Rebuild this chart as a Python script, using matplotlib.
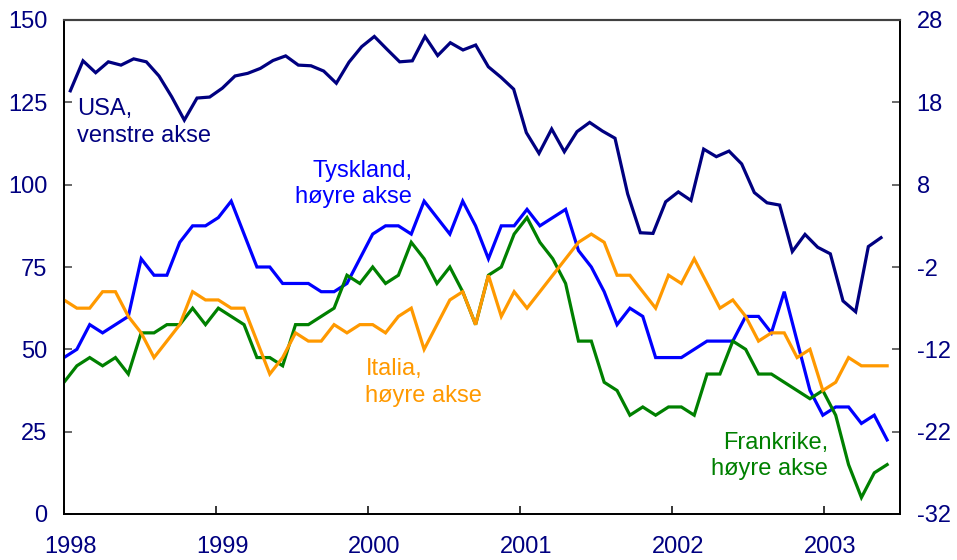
import numpy as np
import matplotlib
matplotlib.use("Agg")
import matplotlib.pyplot as plt

plt.rcParams['font.family'] = ['Liberation Sans', 'DejaVu Sans']

# ---- data -------------------------------------------------------------
years = ['1998', '1999', '2000', '2001', '2002', '2003']
n_categories = 66  # monthly categories Jan 1998 - Jun 2003

# USA consumer confidence, left axis (Jan 1998 - May 2003)
usa = [128.5, 137.6, 134.0, 137.3, 136.3, 138.2, 137.3, 133.0, 126.7, 119.6,
       126.3, 126.6, 129.3, 133.0, 133.8, 135.3, 137.7, 139.1, 136.3, 136.1,
       134.5, 130.8, 137.2, 141.9, 145.0, 141.1, 137.3, 137.6, 145.0, 139.2,
       143.1, 140.9, 142.4, 135.8, 132.6, 129.0, 115.8, 109.5, 116.9, 110.0,
       116.1, 118.9, 116.3, 114.1, 97.2, 85.4, 85.2, 94.8, 97.8, 95.2,
       110.8, 108.5, 110.2, 106.3, 97.6, 94.5, 93.8, 79.7, 84.9, 81.0,
       79.0, 64.7, 61.4, 81.2, 83.9]

# Right axis series (Jan 1998 - May 2003)
tyskland = [-13, -12, -9, -10, -9, -8, -1, -3, -3, 1,
            3, 3, 4, 6, 2, -2, -2, -4, -4, -4,
            -5, -5, -4, -1, 2, 3, 3, 2, 6, 4,
            2, 6, 3, -1, 3, 3, 5, 3, 4, 5,
            0, -2, -5, -9, -7, -8, -13, -13, -13, -12,
            -11, -11, -11, -8, -8, -10, -5, -11, -17, -20,
            -19, -19, -21, -20, -23]

italia = [-6, -7, -7, -5, -5, -8, -10, -13, -11, -9,
          -5, -6, -6, -7, -7, -11, -15, -13, -10, -11,
          -11, -9, -10, -9, -9, -10, -8, -7, -12, -9,
          -6, -5, -9, -3, -8, -5, -7, -5, -3, -1,
          1, 2, 1, -3, -3, -5, -7, -3, -4, -1,
          -4, -7, -6, -8, -11, -10, -10, -13, -12, -17,
          -16, -13, -14, -14, -14]

frankrike = [-16, -14, -13, -14, -13, -15, -10, -10, -9, -9,
             -7, -9, -7, -8, -9, -13, -13, -14, -9, -9,
             -8, -7, -3, -4, -2, -4, -3, 1, -1, -4,
             -2, -5, -9, -3, -2, 2, 4, 1, -1, -4,
             -11, -11, -16, -17, -20, -19, -20, -19, -19, -20,
             -15, -15, -11, -12, -15, -15, -16, -17, -18, -17,
             -20, -26, -30, -27, -26]

left_ticks = [0, 25, 50, 75, 100, 125, 150]
right_ticks = [-32, -22, -12, -2, 8, 18, 28]

# ---- styling ------------------------------------------------------------
NAVY = '#000080'
BLUE = '#0000ff'
ORANGE = '#ff9900'
GREEN = '#008000'
FS = 17

fig = plt.figure(figsize=(9.57, 5.6), dpi=100)
ax = fig.add_axes([64 / 957, 1 - 514 / 560, 836 / 957, 494 / 560])
ax2 = ax.twinx()

# primary series plotted at category centres, secondary on tick marks
x_usa = np.arange(len(usa)) + 0.5
x_eu = np.arange(len(tyskland)) * n_categories / (n_categories - 1)

ax.plot(x_usa, usa, color=NAVY, lw=2.3, solid_joinstyle='miter')
ax2.plot(x_eu, tyskland, color=BLUE, lw=2.3, solid_joinstyle='miter')
ax2.plot(x_eu, frankrike, color=GREEN, lw=2.3, solid_joinstyle='miter')
ax2.plot(x_eu, italia, color=ORANGE, lw=2.3, solid_joinstyle='miter')

ax.set_xlim(0, n_categories)
ax.set_ylim(0, 150)
ax2.set_ylim(-32, 28)

ax.set_yticks(left_ticks)
ax.set_yticklabels([str(t) for t in left_ticks])
ax2.set_yticks(right_ticks)
ax2.set_yticklabels([str(t) for t in right_ticks])

year_pos = np.arange(len(years)) * 12
ax.set_xticks(year_pos)
ax.set_xticklabels([''] * len(years))
ax.set_xticks(year_pos + 0.5, minor=True)
ax.set_xticklabels(years, minor=True)

ax.tick_params(axis='x', which='major', direction='in', length=6, width=1.1,
               color='black')
ax.tick_params(axis='x', which='minor', length=0, pad=16, labelsize=FS,
               labelcolor=NAVY)
ax.tick_params(axis='y', direction='in', length=6, width=1.1, pad=12,
               labelsize=FS, labelcolor=NAVY, color='#404040')
ax2.tick_params(axis='y', direction='in', length=6, width=1.1, pad=12,
                labelsize=FS, labelcolor=NAVY, color='#404040')

for a in (ax, ax2):
    for side in ('left', 'right', 'bottom'):
        a.spines[side].set_color('black')
        a.spines[side].set_linewidth(1.3)
    a.spines['top'].set_color('#404040')
    a.spines['top'].set_linewidth(1.5)

# ---- labels -------------------------------------------------------------
ax.text(1.0, 126.3, 'USA,\nvenstre akse', color=NAVY, fontsize=FS,
        ha='left', va='top', linespacing=1.3)
ax.text(27.5, 107.5, 'Tyskland,\nhøyre akse', color=BLUE, fontsize=FS,
        ha='right', va='top', multialignment='right', linespacing=1.25)
ax.text(23.8, 47.4, 'Italia,\nhøyre akse', color=ORANGE, fontsize=FS,
        ha='left', va='top', linespacing=1.3)
ax.text(60.3, 24.9, 'Frankrike,\nhøyre akse', color=GREEN, fontsize=FS,
        ha='right', va='top', multialignment='right', linespacing=1.25)

fig.savefig('out.png', dpi=100)
